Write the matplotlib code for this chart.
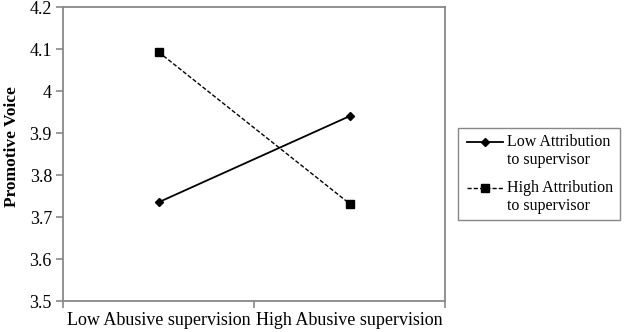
import matplotlib
matplotlib.use("Agg")
import matplotlib.pyplot as plt
from matplotlib.lines import Line2D
from matplotlib.patches import Rectangle

categories = ["Low Abusive supervision", "High Abusive supervision"]
low_attr = [3.735, 3.940]
high_attr = [4.093, 3.732]
series_names = ["Low Attribution\nto supervisor", "High Attribution\nto supervisor"]
yticks = [3.5, 3.6, 3.7, 3.8, 3.9, 4.0, 4.1, 4.2]
ytick_labels = ["3.5", "3.6", "3.7", "3.8", "3.9", "4", "4.1", "4.2"]

plt.rcParams['font.family'] = ['Liberation Serif', 'DejaVu Serif']

W, H = 624, 332
fig = plt.figure(figsize=(W/100, H/100), dpi=100)
ax = fig.add_axes([63/W, 1-301/H, (445-63)/W, (301-7)/H])

styles = [
    dict(color='black', lw=1.3, ls='-', marker='D', ms=4.5),
    dict(color='black', lw=1.0, ls=(0, (3, 1.5)), marker='s', ms=5.5),
]

x = [0, 1]
ax.plot(x, low_attr, **styles[0])
ax.plot(x, high_attr, **styles[1])

ax.set_xlim(-0.5, 1.5)
ax.set_ylim(3.5, 4.2)
ax.set_yticks(yticks)
ax.set_yticklabels(ytick_labels, fontsize=13)
ax.set_xticks([-0.5, 0.5, 1.5])
ax.set_xticklabels([])
ax.set_xticks(x, minor=True)
ax.set_xticklabels(categories, minor=True, fontsize=13)
ax.tick_params(axis='x', which='minor', length=0, pad=8)
ax.tick_params(axis='x', which='major', length=5, color='#888888', width=1.2)
ax.tick_params(axis='y', length=5, color='#888888', width=1.2, pad=3)

for s in ax.spines.values():
    s.set_color('#888888')
    s.set_linewidth(1.3)

ax.set_ylabel("Promotive Voice", fontsize=12.5, fontweight='bold')
ax.yaxis.set_label_coords(-43/(445-63), (301-147)/(301-7))

# legend drawn in figure pixel coordinates
def fx(px):
    return px / W

def fy(py):
    return 1 - py / H

fig.add_artist(Rectangle((fx(458), fy(220)), fx(620) - fx(458), fy(128) - fy(220),
                         transform=fig.transFigure, fill=False, edgecolor='#888888', lw=1.0))
entry_y = [142, 188]
for name, st, ey in zip(series_names, styles, entry_y):
    fig.add_artist(Line2D([fx(467), fx(503)], [fy(ey), fy(ey)], transform=fig.transFigure,
                          color=st['color'], lw=st['lw'], ls=st['ls']))
    fig.add_artist(Line2D([fx(485)], [fy(ey)], transform=fig.transFigure, color=st['color'],
                          marker=st['marker'], ms=st['ms'], ls='none'))
    lines = name.split("\n")
    for i, ln in enumerate(lines):
        fig.text(fx(507), fy(ey + 18 * i), ln, fontsize=11.5, ha='left', va='center')

fig.savefig("out.png", dpi=100)
